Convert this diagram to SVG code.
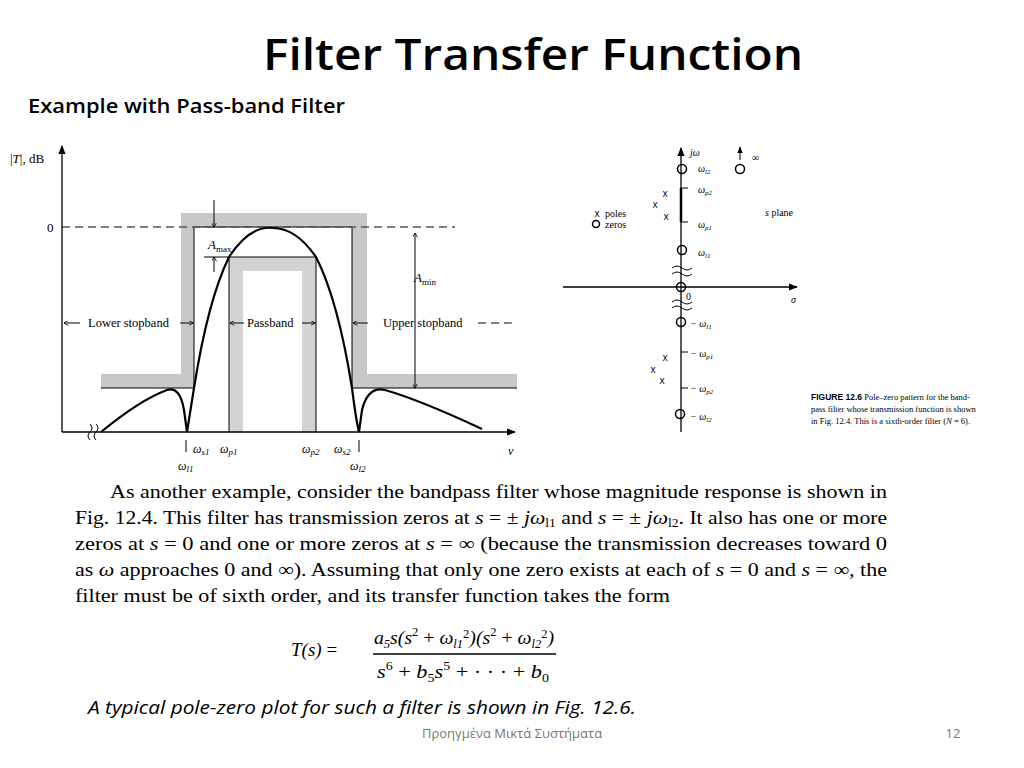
<svg xmlns="http://www.w3.org/2000/svg" width="1024" height="768" viewBox="0 0 1024 768">
<defs>
<style>
.ln{stroke:#000;fill:none;stroke-width:1.3}
.thin{stroke:#000;fill:none;stroke-width:1}
.dash{stroke:#555;fill:none;stroke-width:1.3;stroke-dasharray:8 5}
.sh{fill:#c8c8c8;stroke:none}
.cur{stroke:#000;fill:none;stroke-width:2.2}
.sf{font-family:"Liberation Serif",serif;fill:#000}
.ss{font-family:"Open Sans","Liberation Sans",sans-serif;fill:#000}
.z{fill:none;stroke:#000;stroke-width:1.5}
</style>
<marker id="ah" viewBox="0 0 10 10" refX="9" refY="5" markerWidth="7" markerHeight="7" orient="auto-start-reverse"><path d="M0,1 L10,5 L0,9 z" fill="#000"/></marker>
<marker id="as" viewBox="0 0 10 10" refX="9" refY="5" markerWidth="5" markerHeight="5" orient="auto-start-reverse"><path d="M0,0 L10,5 L0,10" fill="none" stroke="#000" stroke-width="1.5"/></marker>
</defs>
<rect width="1024" height="768" fill="#fff"/>
<text class="ss" x="533" y="70" font-size="44" font-weight="600" text-anchor="middle" textLength="540" lengthAdjust="spacingAndGlyphs">Filter Transfer Function</text>
<text class="ss" x="28" y="113" font-size="19" font-weight="600" textLength="317" lengthAdjust="spacingAndGlyphs">Example with Pass-band Filter</text>

<g id="magnitude-plot">
<path class="sh" d="M181,213 H367 V388 H352 V227 H194 V388 H181 Z"/>
<rect class="sh" x="101" y="374" width="93" height="14"/>
<rect class="sh" x="352" y="374" width="165" height="14"/>
<path class="sh" d="M229,257 H316 V432 H302 V271 H243 V432 H229 Z" opacity="0.8"/>
<path class="thin" d="M194,388 V227 H352 V388 M101,388 H194 M352,388 H517 M229,432 V257 H316 V432"/>
<line class="dash" x1="62" y1="227" x2="455" y2="227"/>
<line class="ln" x1="62" y1="432" x2="62" y2="146" marker-end="url(#ah)"/>
<line class="ln" x1="62" y1="432" x2="515" y2="432" marker-end="url(#ah)"/>
<path class="thin" d="M90,424 q4,4 0,8 q-4,4 0,8 M96,424 q4,4 0,8 q-4,4 0,8"/>
<path class="cur" d="M101,432 Q140,400 167,390 Q180,386 184,410 L187,432 Q189,420 194,388 Q208,300 229,257 Q250,225 273,228 Q296,228 316,257 Q338,300 352,388 Q356,420 359,432 L362,410 Q368,386 385,390 Q420,400 482,429"/>
<text class="sf" x="10" y="163" font-size="13">|<tspan font-style="italic">T</tspan>|, dB</text>
<text class="sf" x="47" y="232" font-size="13">0</text>
<line class="thin" x1="214" y1="200" x2="214" y2="227" marker-end="url(#as)"/>
<line class="thin" x1="214" y1="272" x2="214" y2="257" marker-end="url(#as)"/>
<line class="thin" x1="204" y1="257" x2="229" y2="257"/>
<text class="sf" x="208" y="249" font-size="13" font-style="italic">A<tspan font-size="9" font-style="normal" dy="3">max</tspan></text>
<line class="thin" x1="415" y1="233" x2="415" y2="388" marker-start="url(#as)" marker-end="url(#as)"/>
<text class="sf" x="414" y="282" font-size="13" font-style="italic">A<tspan font-size="9" font-style="normal" dy="3">min</tspan></text>
<g class="sf" font-size="12.5">
<line class="thin" x1="64" y1="323" x2="80" y2="323" marker-start="url(#as)"/>
<text x="88" y="327">Lower stopband</text>
<line class="thin" x1="180" y1="323" x2="193" y2="323" marker-end="url(#as)"/>
<line class="thin" x1="230" y1="323" x2="244" y2="323" marker-start="url(#as)"/>
<text x="247" y="327">Passband</text>
<line class="thin" x1="302" y1="323" x2="315" y2="323" marker-end="url(#as)"/>
<line class="thin" x1="353" y1="323" x2="368" y2="323" marker-start="url(#as)"/>
<text x="383" y="327">Upper stopband</text>
<line class="dash" x1="478" y1="323" x2="515" y2="323"/>
</g>
<g class="sf" font-size="12" font-style="italic">
<line class="thin" x1="186" y1="440" x2="186" y2="452"/>
<line class="thin" x1="359" y1="440" x2="359" y2="452"/>
<text x="193" y="453">ω<tspan font-size="9" dy="2">s1</tspan></text>
<text x="220" y="453">ω<tspan font-size="9" dy="2">p1</tspan></text>
<text x="302" y="453">ω<tspan font-size="9" dy="2">p2</tspan></text>
<text x="334" y="453">ω<tspan font-size="9" dy="2">s2</tspan></text>
<text x="178" y="470">ω<tspan font-size="9" dy="2">l1</tspan></text>
<text x="350" y="470">ω<tspan font-size="9" dy="2">l2</tspan></text>
<text x="508" y="455">ν</text>
</g>
</g>

<g id="pole-zero-plot">
<line class="ln" x1="681" y1="432" x2="681" y2="148" marker-end="url(#ah)"/>
<line class="ln" x1="563" y1="287" x2="797" y2="287" marker-end="url(#ah)"/>
<line x1="681" y1="188" x2="681" y2="222" stroke="#000" stroke-width="2.5"/>
<path class="thin" d="M681,188 H688 M681,222 H688 M681,352 H688 M681,388 H688"/>
<path class="thin" d="M672,268 q5,-4 10,0 q5,4 10,0 M672,274 q5,-4 10,0 q5,4 10,0 M672,302 q5,-4 10,0 q5,4 10,0 M672,308 q5,-4 10,0 q5,4 10,0"/>
<g class="z"><circle cx="682" cy="169" r="4.5"/><circle cx="682" cy="250" r="4.5"/><circle cx="681" cy="287" r="4.5"/><circle cx="681" cy="322" r="4.5"/><circle cx="680" cy="414" r="4.5"/><circle cx="740" cy="169" r="4.5"/></g>
<line class="thin" x1="740" y1="160" x2="740" y2="147" marker-end="url(#ah)"/>
<g class="ss" font-size="10" text-anchor="middle">
<text x="665" y="197">x</text><text x="655" y="208">x</text><text x="666" y="220">x</text>
<text x="665" y="361">x</text><text x="653" y="373">x</text><text x="662" y="384">x</text>
<text x="597" y="217">x</text>
</g>
<circle class="z" cx="596" cy="224" r="3.5"/>
<g class="sf" font-size="10">
<text x="605" y="217">poles</text><text x="605" y="228">zeros</text>
<text x="690" y="156" font-style="italic">jω</text>
<text x="752" y="161">∞</text>
<text x="765" y="216"><tspan font-style="italic">s</tspan> plane</text>
<text x="686" y="300">0</text>
<text x="791" y="303" font-style="italic">σ</text>
</g>
<g class="sf" font-size="10" font-style="italic">
<text x="698" y="172">ω<tspan font-size="7" dy="2">l2</tspan></text>
<text x="698" y="193">ω<tspan font-size="7" dy="2">p2</tspan></text>
<text x="698" y="228">ω<tspan font-size="7" dy="2">p1</tspan></text>
<text x="698" y="256">ω<tspan font-size="7" dy="2">l1</tspan></text>
<text x="690" y="327">− ω<tspan font-size="7" dy="2">l1</tspan></text>
<text x="690" y="357">− ω<tspan font-size="7" dy="2">p1</tspan></text>
<text x="690" y="392">− ω<tspan font-size="7" dy="2">p2</tspan></text>
<text x="690" y="420">− ω<tspan font-size="7" dy="2">l2</tspan></text>
</g>
<g class="sf" font-size="8.5">
<text x="811" y="400"><tspan font-family="Liberation Sans,sans-serif" font-weight="bold">FIGURE 12.6</tspan>  Pole–zero pattern for the band-</text>
<text x="811" y="412">pass filter whose transmission function is shown</text>
<text x="811" y="424">in Fig. 12.4. This is a sixth-order filter (<tspan font-style="italic">N</tspan> = 6).</text>
</g>
</g>

<g id="paragraph" class="sf" font-size="19">
<text x="110" y="498" textLength="777" lengthAdjust="spacingAndGlyphs">As another example, consider the bandpass filter whose magnitude response is shown in</text>
<text x="75" y="524" textLength="812" lengthAdjust="spacingAndGlyphs">Fig. 12.4. This filter has transmission zeros at <tspan font-style="italic">s</tspan> = ± <tspan font-style="italic">jω</tspan><tspan font-size="12" dy="3">l1</tspan><tspan dy="-3"> and </tspan><tspan font-style="italic">s</tspan> = ± <tspan font-style="italic">jω</tspan><tspan font-size="12" dy="3">l2</tspan><tspan dy="-3">. It also has one or more</tspan></text>
<text x="75" y="550" textLength="812" lengthAdjust="spacingAndGlyphs">zeros at <tspan font-style="italic">s</tspan> = 0 and one or more zeros at <tspan font-style="italic">s</tspan> = ∞ (because the transmission decreases toward 0</text>
<text x="75" y="576" textLength="812" lengthAdjust="spacingAndGlyphs">as <tspan font-style="italic">ω</tspan> approaches 0 and ∞). Assuming that only one zero exists at each of <tspan font-style="italic">s</tspan> = 0 and <tspan font-style="italic">s</tspan> = ∞, the</text>
<text x="75" y="602" textLength="595" lengthAdjust="spacingAndGlyphs">filter must be of sixth order, and its transfer function takes the form</text>
</g>

<g id="formula" class="sf" font-size="19" font-style="italic">
<text x="291" y="656">T(s) <tspan font-style="normal">=</tspan></text>
<text x="374" y="644" textLength="180" lengthAdjust="spacingAndGlyphs">a<tspan font-size="12" dy="4">5</tspan><tspan dy="-4">s(s</tspan><tspan font-size="12" dy="-8" font-style="normal">2</tspan><tspan dy="8" font-style="normal"> + </tspan>ω<tspan font-size="12" dy="4">l1</tspan><tspan font-size="12" dy="-10" font-style="normal">2</tspan><tspan dy="6">)(s</tspan><tspan font-size="12" dy="-8" font-style="normal">2</tspan><tspan dy="8" font-style="normal"> + </tspan>ω<tspan font-size="12" dy="4">l2</tspan><tspan font-size="12" dy="-10" font-style="normal">2</tspan><tspan dy="6">)</tspan></text>
<line x1="373" y1="654" x2="556" y2="654" stroke="#000" stroke-width="1.5"/>
<text x="377" y="678" textLength="172" lengthAdjust="spacingAndGlyphs">s<tspan font-size="12" dy="-8" font-style="normal">6</tspan><tspan dy="8" font-style="normal"> + </tspan>b<tspan font-size="12" dy="4" font-style="normal">5</tspan><tspan dy="-4">s</tspan><tspan font-size="12" dy="-8" font-style="normal">5</tspan><tspan dy="8" font-style="normal"> + · · · + </tspan>b<tspan font-size="12" dy="4" font-style="normal">0</tspan></text>
</g>

<text class="ss" x="88" y="714" font-size="18" font-style="italic" textLength="548" lengthAdjust="spacingAndGlyphs">A typical pole-zero plot for such a filter is shown in Fig. 12.6.</text>
<text class="ss" x="512" y="738" font-size="13" style="fill:#777" text-anchor="middle">Προηγμένα Μικτά  Συστήματα</text>
<text class="ss" x="953" y="738" font-size="13" style="fill:#777" text-anchor="middle">12</text>
</svg>
